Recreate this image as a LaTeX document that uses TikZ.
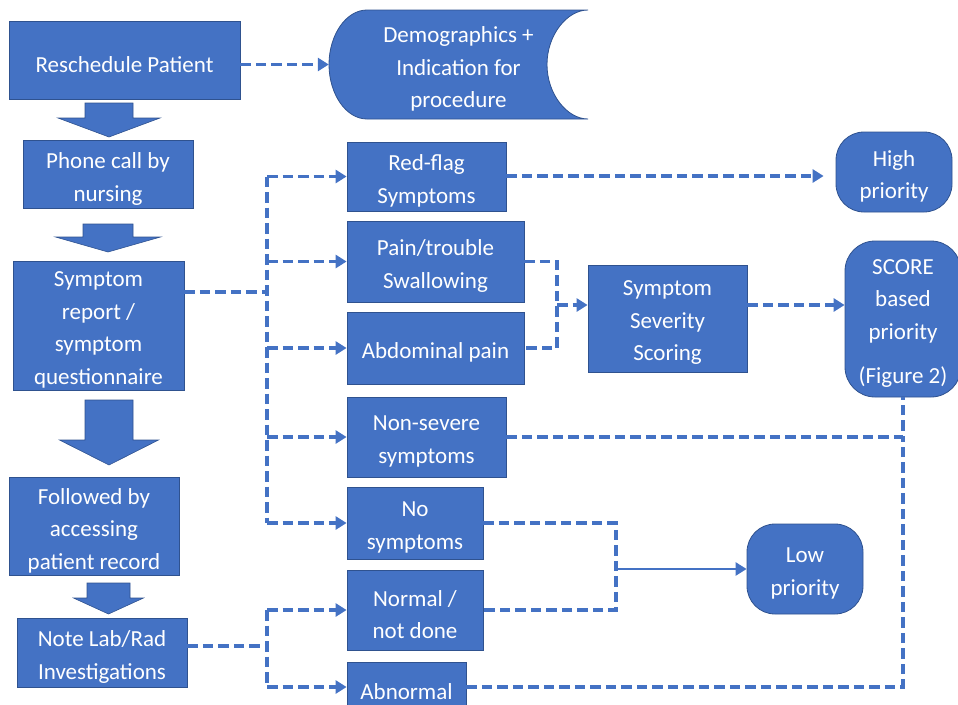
\documentclass[tikz,border=0pt]{standalone}
\usepackage{fontspec}
\setmainfont{Carlito}
\usetikzlibrary{arrows.meta,calc}
\definecolor{obl}{HTML}{4472C4}
\definecolor{obd}{HTML}{2F528F}
\tikzset{
  txt/.style={text=white,align=center,inner sep=0pt,font=\fontsize{23pt}{32.5pt}\selectfont},
  box/.style={draw=obd,fill=obl,line width=0.8pt,rectangle,inner sep=0pt},
  lbl/.style={label={[txt,yshift=-4.5pt]center:{#1}}},
  rbox/.style={box,rounded corners=28pt},
  dl/.style={draw=obl,line width=3.5pt,dash pattern=on 10.5pt off 5pt},
  sl/.style={draw=obl,line width=2.5pt},
  tip/.style={-{Triangle[length=11pt,width=13pt]}},
  blk/.style={fill=obl,draw=obd,line width=0.6pt}
}
\newcommand{\blockarrow}[6]{% cx, top, shaft half, head base, head half, tip
  \path[blk] (#1-#3,#2) -- (#1+#3,#2) -- (#1+#3,#4) -- (#1+#5,#4) -- (#1,#6) -- (#1-#5,#4) -- (#1-#3,#4) -- cycle;}
\begin{document}
\begin{tikzpicture}[x=1pt,y=-1pt]
\useasboundingbox (0,0) rectangle (958,704);
% left column
\node[box,minimum width=231pt,minimum height=78pt,lbl={Reschedule Patient}] (resch) at (124.5,60) {};
\node[box,minimum width=170pt,minimum height=68pt,lbl={Phone call by\\nursing}] (phone) at (108,174.5) {};
\node[box,minimum width=171pt,minimum height=129pt,lbl={Symptom\\report /\\symptom\\questionnaire}] (symrep) at (98.5,325.5) {};
\node[box,minimum width=170pt,minimum height=98pt,lbl={Followed by\\accessing\\patient record}] (follow) at (94,526) {};
\node[box,minimum width=170pt,minimum height=69pt,lbl={Note Lab/Rad\\Investigations}] (note) at (102,652.5) {};
% block arrows
\blockarrow{109}{103}{24}{118}{51}{137}
\blockarrow{108}{224}{25}{237}{52.5}{252}
\blockarrow{109}{400}{24}{440}{49.5}{465}
\blockarrow{108.5}{583}{21.5}{598}{35}{614}
% storage shape
\path[blk,line width=0.8pt] (367,119) .. controls (346,119) and (329,94) .. (329,64.5)
  .. controls (329,35) and (346,10) .. (367,10) -- (588,10)
  .. controls (567,10) and (547,35) .. (547,64.5)
  .. controls (547,94) and (567,119) .. (588,119) -- cycle;
\node[minimum width=259pt,minimum height=109pt,inner sep=0pt,lbl={Demographics +\\Indication for\\procedure}] (demo) at (458.5,64.5) {};
% middle column
\node[box,minimum width=159pt,minimum height=69pt,lbl={Red-flag\\Symptoms}] (redflag) at (426.5,176.5) {};
\node[box,minimum width=177pt,minimum height=81pt,lbl={Pain/trouble\\Swallowing}] (pain) at (435.5,261.5) {};
\node[box,minimum width=177pt,minimum height=72pt,lbl={Abdominal pain}] (abd) at (435.5,348) {};
\node[box,minimum width=159pt,minimum height=80pt,lbl={Non-severe\\symptoms}] (nonsev) at (426.5,437) {};
\node[box,minimum width=136pt,minimum height=72pt,lbl={No\\symptoms}] (nosym) at (415,523) {};
\node[box,minimum width=136pt,minimum height=80pt,lbl={Normal /\\not done}] (normal) at (415,610) {};
\node[box,minimum width=119pt,minimum height=50pt,lbl={Abnormal}] (abnormal) at (406.5,687) {};
\node[box,minimum width=159pt,minimum height=107pt,lbl={Symptom\\Severity\\Scoring}] (sev) at (667.5,318.5) {};
% right column
\node[rbox,minimum width=116pt,minimum height=80pt,lbl={High\\priority}] (high) at (894,172) {};
\node[rbox,rounded corners=30pt,minimum width=116pt,minimum height=156pt,lbl={SCORE\\based\\priority\\[12pt](Figure 2)}] (score) at (903,319) {};
\node[rbox,minimum width=116pt,minimum height=90pt,lbl={Low\\priority}] (low) at (805,569) {};
% coordinates
\coordinate (bus) at (267,0);
\coordinate (j1) at (267,292);
\coordinate (j2) at (267,646);
\coordinate (m1) at (557,305);
\coordinate (m2) at (616,569);
% connectors
\draw[dl,tip] (resch.east |- demo.west) -- (demo.west);
\draw[dl] (symrep.east |- j1) -- (j1);
\draw[dl] (bus |- redflag.west) -- (bus |- nosym.west);
\draw[dl,tip] (bus |- redflag.west) -- (redflag.west);
\draw[dl,tip] (bus |- pain.west) -- (pain.west);
\draw[dl,tip] (bus |- abd.west) -- (abd.west);
\draw[dl,tip] (bus |- nonsev.west) -- (nonsev.west);
\draw[dl,tip] (bus |- nosym.west) -- (nosym.west);
\draw[dl] (note.east |- j2) -- (j2);
\draw[dl] (bus |- normal.west) -- (bus |- abnormal.west);
\draw[dl,tip] (bus |- normal.west) -- (normal.west);
\draw[dl,tip] (bus |- abnormal.west) -- (abnormal.west);
\draw[dl,tip] ([yshift=0.5pt]redflag.east) -- ([xshift=-12pt,yshift=0.5pt]redflag.east -| high.west);
\draw[dl] (pain.east) -- (pain.east -| m1) -- (abd.east -| m1) -- (abd.east);
\draw[dl,tip] (m1) -- (sev.west |- m1);
\draw[dl,tip] (sev.east |- m1) -- (score.west |- m1);
\draw[dl] (nonsev.east) -- (nonsev.east -| score.south) -- (score.south);
\draw[dl] (abnormal.east) -- (abnormal.east -| score.south) -- (nonsev.east -| score.south);
\draw[dl] (nosym.east) -- (nosym.east -| m2) -- (normal.east -| m2) -- (normal.east);
\draw[sl,tip] (m2) -- (low.west);
\end{tikzpicture}
\end{document}
